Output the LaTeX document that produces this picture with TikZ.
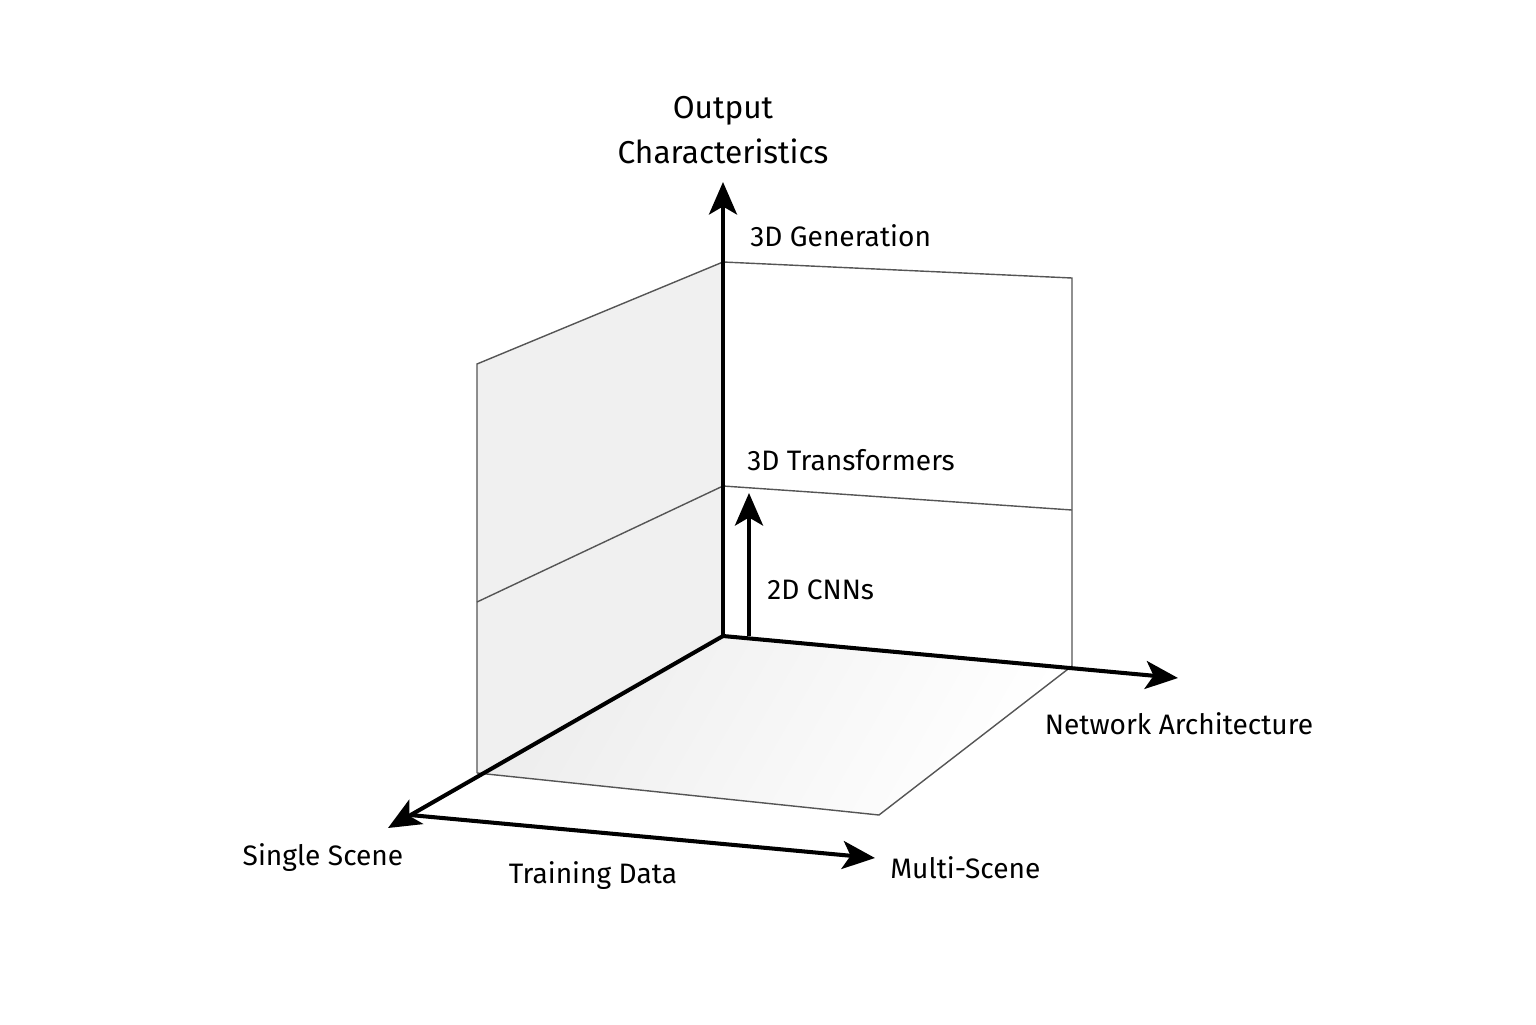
\documentclass[tikz,border=0pt]{standalone}
\usepackage{fontspec}
\setmainfont{Fira Sans}
\usepackage{xcolor}
\usetikzlibrary{arrows.meta}

\definecolor{wallgray}{HTML}{F0F0F0}
\definecolor{edgegray}{HTML}{555555}

\tikzset{
  axis/.style={line width=2.3pt, -{Stealth[length=6.5mm, width=5.6mm, inset=1.6mm]}},
  edge/.style={line width=0.8pt, draw=edgegray},
  lbl/.style={inner sep=0pt, font=\fontsize{16}{19}\selectfont},
}

\begin{document}
\begin{tikzpicture}[x=2cm, y=2cm]
  \useasboundingbox (-7.23,-3.88) rectangle (8.13,6.36);

  % corner points of the box
  \coordinate (O)   at (0,0);
  \coordinate (bwt) at (0,3.74);
  \coordinate (bwr) at (3.49,3.58);
  \coordinate (bwb) at (3.49,-0.30);
  \coordinate (bml) at (0,1.50);
  \coordinate (bmr) at (3.49,1.26);
  \coordinate (lwt) at (-2.46,2.72);
  \coordinate (lwb) at (-2.46,-1.37);
  \coordinate (lml) at (-2.46,0.34);
  \coordinate (ffc) at (1.56,-1.79);

  % arrow ends
  \coordinate (ztip) at (0,4.54);
  \coordinate (xtip) at (4.55,-0.42);
  \coordinate (ytip) at (-3.35,-1.92);
  \coordinate (tdA)  at (-3.13,-1.79);
  \coordinate (tdB)  at (1.52,-2.22);
  \coordinate (cnnA) at (0.26,0);
  \coordinate (cnnB) at (0.26,1.43);

  % walls and floor
  \fill[wallgray] (O) -- (bwt) -- (lwt) -- (lwb) -- cycle;
  \shade[left color=black!7, right color=white, shading angle=60]
    (O) -- (lwb) -- (ffc) -- (bwb) -- cycle;

  \draw[edge] (bwt) -- (bwr) -- (bwb);
  \draw[edge] (bml) -- (bmr);
  \draw[edge] (bwt) -- (lwt) -- (lwb);
  \draw[edge] (bml) -- (lml);
  \draw[edge] (lwb) -- (ffc) -- (bwb);

  % axes
  \draw[axis] (O) -- (ztip);
  \draw[axis] (O) -- (xtip);
  \draw[axis] (O) -- (ytip);
  \draw[axis] (tdA) -- (tdB);
  \draw[axis] (cnnA) -- (cnnB);

  % labels
  \node[lbl, align=center, font=\fontsize{18}{26}\selectfont] (out) at (0,5.06) {Output\\Characteristics};
  \node[lbl, anchor=west] (gen) at (0.27,4.00) {3D Generation};
  \node[lbl, anchor=west] (trf) at (0.24,1.76) {3D Transformers};
  \node[lbl, anchor=west] (cnn) at (0.44,0.46) {2D CNNs};
  \node[lbl] (net) at (4.56,-0.88) {Network Architecture};
  \node[lbl] (single) at (-4.00,-2.22) {Single Scene};
  \node[lbl] (train) at (-1.30,-2.40) {Training Data};
  \node[lbl, anchor=west] (multi) at (1.67,-2.32) {Multi-Scene};
\end{tikzpicture}
\end{document}
